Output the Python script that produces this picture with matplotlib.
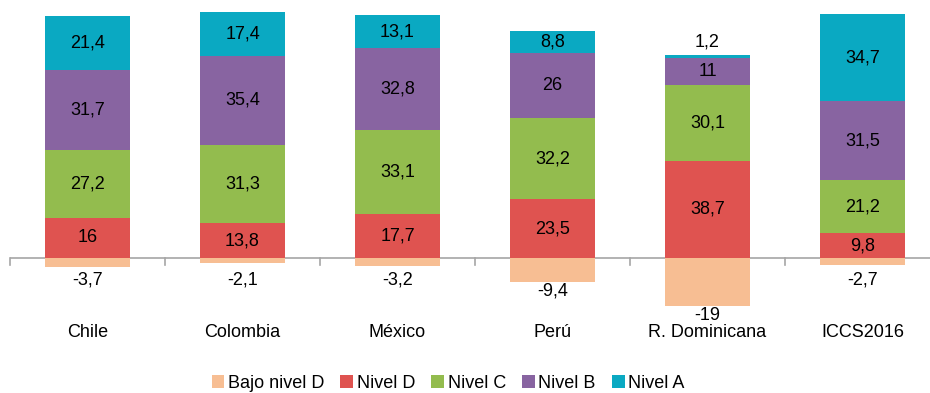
import numpy as np
import matplotlib.pyplot as plt

plt.rcParams['font.family'] = ['Liberation Sans', 'DejaVu Sans']

# Datos
paises = ['Chile', 'Colombia', 'México', 'Perú', 'R. Dominicana', 'ICCS2016']
bajo_d = [-3.7, -2.1, -3.2, -9.4, -19, -2.7]
nivel_d = [16, 13.8, 17.7, 23.5, 38.7, 9.8]
nivel_c = [27.2, 31.3, 33.1, 32.2, 30.1, 21.2]
nivel_b = [31.7, 35.4, 32.8, 26, 11, 31.5]
nivel_a = [21.4, 17.4, 13.1, 8.8, 1.2, 34.7]

series = [('Bajo nivel D', bajo_d, '#F7BE93'),
          ('Nivel D', nivel_d, '#DF5350'),
          ('Nivel C', nivel_c, '#93BC4E'),
          ('Nivel B', nivel_b, '#8864A1'),
          ('Nivel A', nivel_a, '#0AA9C2')]

def fmt(v):
    return f"{v:g}".replace('.', ',')

fig = plt.figure(figsize=(9.3, 3.93), dpi=100)
ax = fig.add_axes([10/930, 73/393, 920/930, 315/393])
x = np.arange(len(paises))
w = 0.55
fs = 13

bottom = np.zeros(len(paises))
for nombre, vals, clr in series:
    vals = np.array(vals, dtype=float)
    if nombre == 'Bajo nivel D':
        ax.bar(x, vals, w, color=clr, label=nombre, zorder=2)
        for xi, v in zip(x, vals):
            ax.text(xi, min(-8.8, v - 3.9), fmt(v), ha='center', va='center', fontsize=fs)
        continue
    ax.bar(x, vals, w, bottom=bottom, color=clr, label=nombre, zorder=2)
    for xi, b, v in zip(x, bottom, vals):
        if v < 3:
            ax.text(xi, b + v + 1.8, fmt(v), ha='center', va='bottom', fontsize=fs)
        else:
            ax.text(xi, b + v / 2, fmt(v), ha='center', va='center', fontsize=fs)
    bottom += vals

ax.set_xlim(-0.5, 5.435)
ax.set_ylim(-24.7, 100.8)
ax.axhline(0, color='#A6A6A6', linewidth=1.2, zorder=1)
for xb in np.arange(-0.5, len(paises), 1):
    ax.plot([xb, xb], [0, -2.8], color='#A6A6A6', linewidth=1.2, zorder=1, clip_on=False)
for xi, p in zip(x, paises):
    ax.text(xi, -29.6, p, ha='center', va='center', fontsize=fs)
ax.axis('off')

fig.legend(loc='center', bbox_to_anchor=(448/930, 1 - 383/393), ncol=5, frameon=False,
           fontsize=fs, handlelength=0.7, handleheight=0.7, handletextpad=0.2,
           columnspacing=0.9)

fig.savefig('out.png', dpi=100)
